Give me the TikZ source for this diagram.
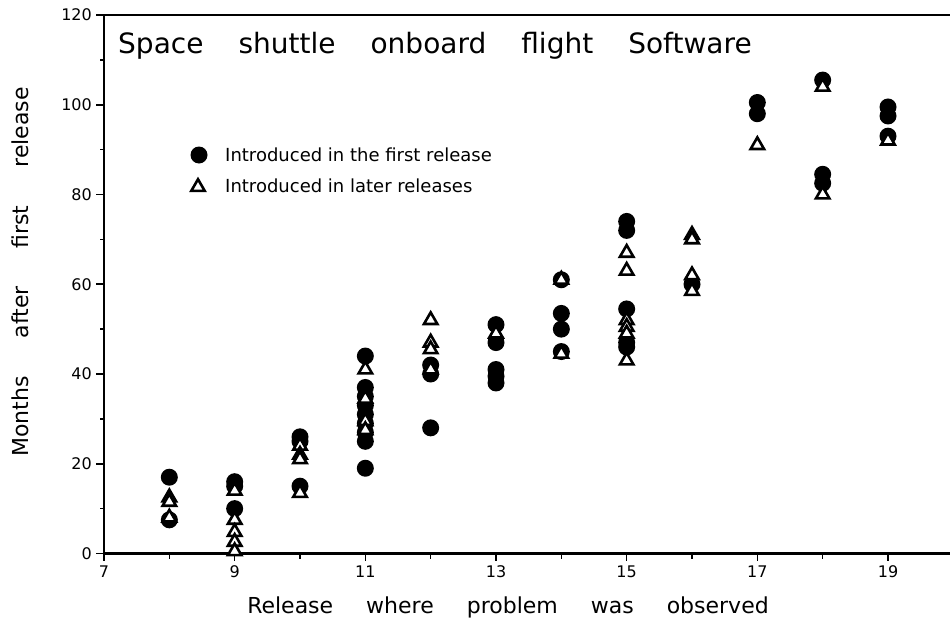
\documentclass[tikz,border=0pt]{standalone}
\usepackage{fontspec}
\setmainfont{DejaVu Sans}
\usetikzlibrary{shapes.geometric}
\begin{document}
\begin{tikzpicture}[x=1pt,y=-1pt,
  dot/.style={circle,fill=black,draw=none,minimum size=17pt,inner sep=0pt,outer sep=0pt},
  tri/.style={regular polygon,regular polygon sides=3,draw=black,fill=white,line width=2.6pt,minimum size=15.5pt,inner sep=0pt,outer sep=0pt},
  ticklab/.style={font=\fontsize{16}{16}\selectfont,inner sep=0pt},
  axislab/.style={font=\fontsize{22}{22}\selectfont,inner sep=0pt},
  titlelab/.style={font=\fontsize{28}{28}\selectfont,inner sep=0pt},
  leglab/.style={font=\fontsize{18}{18}\selectfont,inner sep=0pt},
  axisline/.style={line width=2.6pt,line cap=rect},
  frameline/.style={line width=2pt},
  tickline/.style={line width=1.6pt}]
\useasboundingbox (0,0) rectangle (950,621);
\fill[white] (0,0) rectangle (950,621);

% title, axis labels, legend
\node[titlelab,anchor=base west] (title) at (118,53) {Space\hspace{35pt}shuttle\hspace{35pt}onboard\hspace{35pt}flight\hspace{35pt}Software};
\node[axislab,rotate=90] (ylab) at (20,272) {Months\hspace{38pt}after\hspace{38pt}first\hspace{38pt}release};
\node[axislab,anchor=base] (xlab) at (508,613) {Release\hspace{33pt}where\hspace{33pt}problem\hspace{33pt}was\hspace{33pt}observed};

\node[dot] (legc) at (199,155) {};
\node[leglab,anchor=west] (legct) at (225,155) {Introduced in the first release};
\node[tri] (legt) at (198,187) {};
\node[leglab,anchor=west] (legtt) at (225,186) {Introduced in later releases};

\begin{scope}[shift={(-353.33,553.5)},x=65.333pt,y=4.4875pt]
  % frame and axes
  \draw[frameline] (7,120) -- (19.95,120);
  \draw[axisline] (7,120) -- (7,0) -- (19.95,0);
  \foreach \v in {0,20,...,120} {
    \draw[tickline] (7,\v) -- ++(-8pt,0);
    \node[ticklab,anchor=east] (ytl\v) at ([xshift=-12pt]7,\v) {\v};
  }
  \foreach \v in {10,30,...,110} \draw[tickline] (7,\v) -- ++(-4pt,0);
  \foreach \r in {7,9,...,19} {
    \draw[tickline] (\r,0) -- ++(0,-7pt);
    \node[ticklab,anchor=base] (xtl\r) at ([yshift=-24pt]\r,0) {\r};
  }
  \foreach \r in {8,10,...,18} \draw[tickline] (\r,0) -- ++(0,-5pt);

  % introduced in the first release
  \foreach \r/\v [count=\i] in {
    8/17, 8/7.5,
    9/16, 9/15, 9/10,
    10/26, 10/25, 10/15,
    11/44, 11/37, 11/35, 11/33, 11/31, 11/29, 11/27, 11/25, 11/19,
    12/42, 12/40, 12/28,
    13/51, 13/47, 13/41, 13/39.5, 13/38,
    14/61, 14/53.5, 14/50, 14/45,
    15/74, 15/72, 15/54.5, 15/47, 15/46,
    16/60,
    17/100.5, 17/98,
    18/105.5, 18/84.5, 18/82.5,
    19/99.5, 19/97.5, 19/93}
    \node[dot] (c\i) at (\r,\v) {};

  % introduced in later releases
  \foreach \r/\v [count=\i] in {
    8/12.5, 8/11.5, 8/8,
    9/14, 9/7.5, 9/4.8, 9/2.6, 9/0.5,
    10/24, 10/22, 10/21, 10/13.5,
    11/41, 11/34.5, 11/29.5, 11/27.5,
    12/52, 12/47, 12/45.5, 12/41,
    13/49,
    14/61, 14/44.5,
    15/67, 15/63, 15/52, 15/50.5, 15/49, 15/43,
    16/71, 16/70, 16/62, 16/58.5,
    17/91,
    18/104, 18/80,
    19/92}
    \node[tri] (t\i) at (\r,\v) {};
\end{scope}
\end{tikzpicture}
\end{document}
